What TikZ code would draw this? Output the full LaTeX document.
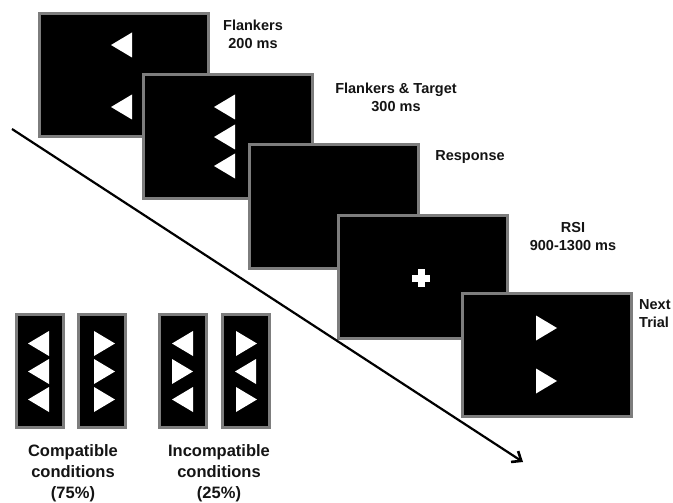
\documentclass[tikz,border=0pt]{standalone}
\usepackage{fontspec}
\setmainfont{Liberation Sans}
\usetikzlibrary{arrows.meta}
\definecolor{bordergray}{HTML}{7D7D7D}
\definecolor{txt}{HTML}{141414}
\newcommand\triL[2]{\fill[white] (#1,#2) -- ++(21,-12.5) -- ++(0,25) -- cycle;}
\newcommand\triR[2]{\fill[white] (#1,#2) -- ++(-21,-12.5) -- ++(0,25) -- cycle;}
\begin{document}
\begin{tikzpicture}[x=1pt,y=-1pt,
  screen/.style={draw=bordergray,fill=black,line width=3pt,inner sep=0pt,
    minimum width=169pt,minimum height=123pt},
  panel/.style={draw=bordergray,fill=black,line width=3pt,inner sep=0pt,
    minimum width=47pt,minimum height=113pt},
  toplabel/.style={font=\fontsize{14.5}{18}\selectfont\bfseries,text=txt,align=center,inner sep=0pt},
  botlabel/.style={font=\fontsize{16.5}{21}\selectfont\bfseries,text=txt,align=center,inner sep=0pt}]
\useasboundingbox (0,0) rectangle (673,503);
\fill[white] (0,0) rectangle (673,503);
% screens
\node[screen] (s1) at (124,75) {};
\triL{111}{45}\triL{111}{107}
\node[screen] (s2) at (227.5,136.5) {};
\triL{214}{107}\triL{214}{137}\triL{214}{166}
\node[screen] (s3) at (333.5,206.5) {};
\node[screen] (s4) at (422.5,276.5) {};
\fill[white] (412,274.5) rectangle (430,281.5);
\fill[white] (417.5,269) rectangle (424.5,287);
\node[screen] (s5) at (546.5,354.5) {};
\triR{557}{328}\triR{557}{381}
% labels
\node[toplabel] (l1) at (253,34) {Flankers\\200 ms};
\node[toplabel] (l2) at (396,97) {Flankers \& Target\\300 ms};
\node[toplabel] (l3) at (470,157) {Response};
\node[toplabel] (l4) at (573,237) {RSI\\900-1300 ms};
\node[toplabel,align=left,anchor=west] (l5) at (639,314) {Next\\Trial};
% time arrow
\coordinate (a0) at (12,129);
\coordinate (a1) at (523,462);
\draw[line width=2.2pt,-{Straight Barb[length=8pt,width=13pt,line width=2.6pt]}] (a0) -- (a1);
% condition panels
\node[panel] (p1) at (39.5,371) {};
\triL{28}{343.5}\triL{28}{371.5}\triL{28}{399.5}
\node[panel] (p2) at (102,371) {};
\triR{115}{343.5}\triR{115}{371.5}\triR{115}{399.5}
\node[panel] (p3) at (183,371) {};
\triL{172}{343.5}\triR{193}{371.5}\triL{172}{399.5}
\node[panel] (p4) at (246,371) {};
\triR{257}{343.5}\triL{235}{371.5}\triR{257}{399.5}
\node[botlabel] (c1) at (73,473) {Compatible\\conditions\\(75\%)};
\node[botlabel] (c2) at (219,473) {Incompatible\\conditions\\(25\%)};
\end{tikzpicture}
\end{document}
